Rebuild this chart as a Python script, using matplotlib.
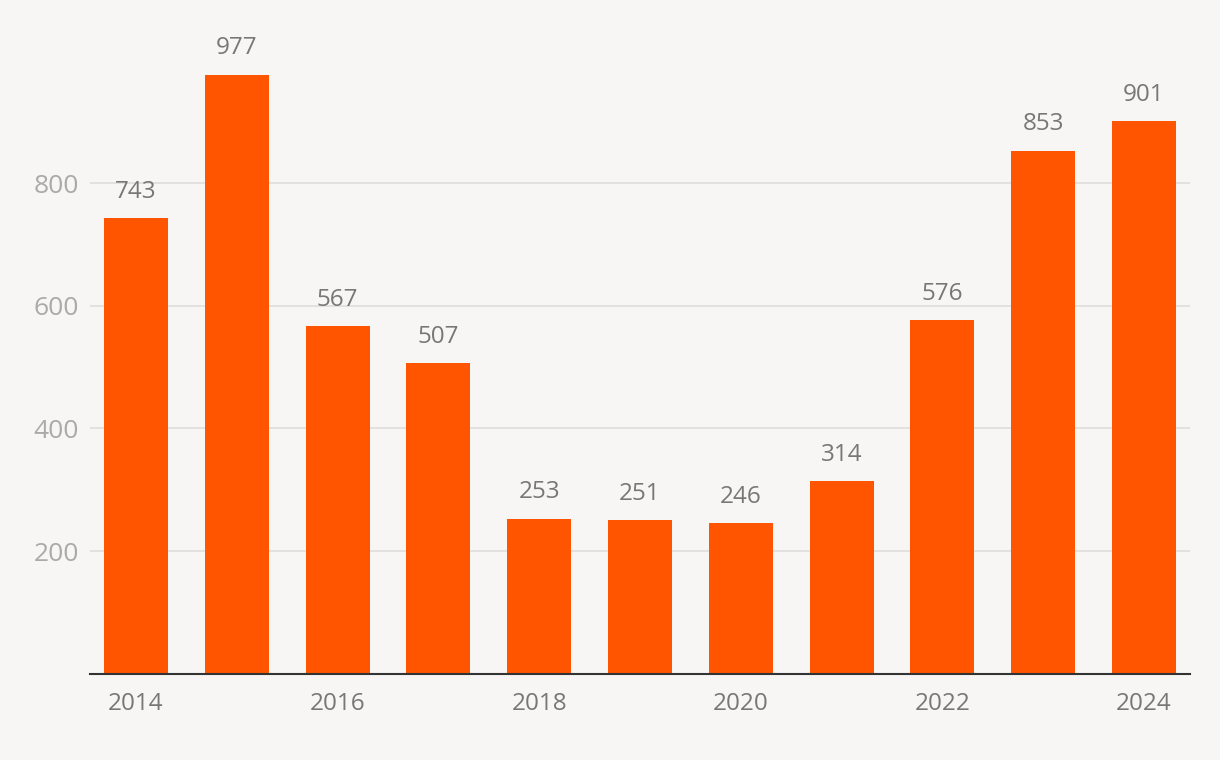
import matplotlib
matplotlib.use("Agg")
import matplotlib.pyplot as plt
from matplotlib import font_manager

years = [2014, 2015, 2016, 2017, 2018, 2019, 2020, 2021, 2022, 2023, 2024]
values = [743, 977, 567, 507, 253, 251, 246, 314, 576, 853, 901]
xtick_labels = ["2014", "2016", "2018", "2020", "2022", "2024"]
ytick_values = [200, 400, 600, 800]

names = {f.name for f in font_manager.fontManager.ttflist}
fam = "Open Sans" if "Open Sans" in names else "DejaVu Sans"
plt.rcParams['font.family'] = [fam, 'DejaVu Sans']

bg = "#f7f6f4"
fig = plt.figure(figsize=(12.2, 7.6), dpi=100, facecolor=bg)
ax = fig.add_axes([90/1220, (760-673.7)/760, 1100/1220, (673.7-23.6)/760])
ax.set_facecolor(bg)

x = list(range(len(years)))
ax.bar(x, values, width=0.635, color="#ff5500", zorder=3)
for xi, v in zip(x, values):
    ax.annotate(str(v), (xi, v), xytext=(0, 14.5), textcoords="offset points",
                ha="center", va="baseline", fontsize=17.5, color="#777777", zorder=4)

ax.set_xlim(-0.456, len(years) - 1 + 0.456)
ax.set_ylim(0, 1060)
ax.set_yticks(ytick_values)
ax.set_yticklabels([str(t) for t in ytick_values])
ax.set_xticks([i for i, y in enumerate(years) if str(y) in xtick_labels])
ax.set_xticklabels(xtick_labels)
ax.grid(axis="y", color="#e0dfdd", linewidth=1.3, zorder=0)
ax.tick_params(axis="y", length=0, pad=8, labelsize=19, labelcolor="#aaaaaa")
ax.tick_params(axis="x", length=0, pad=13, labelsize=17.5, labelcolor="#777777")
for s in ["top", "right", "left"]:
    ax.spines[s].set_visible(False)
ax.spines["bottom"].set_color("#333333")
ax.spines["bottom"].set_linewidth(1.5)
ax.spines["bottom"].set_zorder(5)

fig.savefig("out.png", dpi=100, facecolor=bg)
